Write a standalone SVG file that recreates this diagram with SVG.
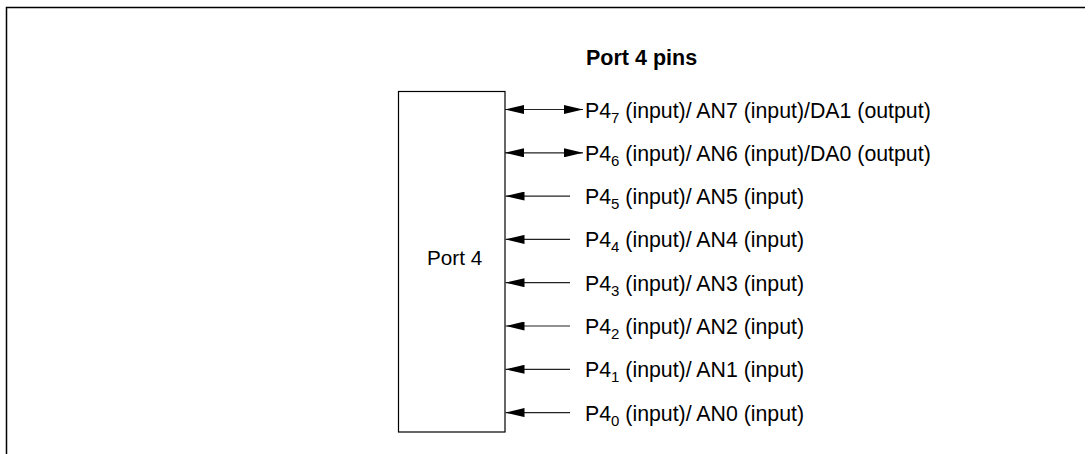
<svg xmlns="http://www.w3.org/2000/svg" width="1090" height="454" viewBox="0 0 1090 454">
<defs>
<marker id="ah" viewBox="0 0 19 9" refX="19" refY="4.5" markerWidth="19" markerHeight="9" markerUnits="userSpaceOnUse" orient="auto-start-reverse">
<path d="M0,0 L19,4.5 L0,9 Z" fill="#000"/>
</marker>
</defs>
<style>
text{font-family:"Liberation Sans",Arial,sans-serif;font-size:21.3px;fill:#000}
.title{font-weight:bold;font-size:21.5px}
.box{font-size:20.7px}
.sub{font-size:15px}
.conn line{stroke:#222;stroke-width:1.2}
.dbl{marker-start:url(#ah);marker-end:url(#ah)}
.sgl{marker-end:url(#ah)}
</style>
<rect width="1090" height="454" fill="#fff"/>
<path d="M6.5,454 V7.5 H1085" fill="none" stroke="#000" stroke-width="1.5"/>
<text class="title" x="586" y="65">Port 4 pins</text>
<g id="port4">
<rect x="398.5" y="91.5" width="106.5" height="340.5" fill="#fff" stroke="#000" stroke-width="1.2"/>
<text class="box" x="427" y="265">Port 4</text>
</g>
<g class="conn" id="connectors">
<line class="dbl" x1="505" y1="109.5" x2="583" y2="109.5"/>
<line class="dbl" x1="505" y1="152.8" x2="583" y2="152.8"/>
<line class="sgl" x1="570" y1="196.1" x2="505.5" y2="196.1"/>
<line class="sgl" x1="570" y1="239.4" x2="505.5" y2="239.4"/>
<line class="sgl" x1="570" y1="282.7" x2="505.5" y2="282.7"/>
<line class="sgl" x1="570" y1="326" x2="505.5" y2="326"/>
<line class="sgl" x1="570" y1="369.3" x2="505.5" y2="369.3"/>
<line class="sgl" x1="570" y1="412.6" x2="505.5" y2="412.6"/>
</g>
<g id="pin7"><text x="585" y="117.5">P4<tspan class="sub" dy="5">7</tspan><tspan dy="-5"> (input)/ AN7 (input)/DA1 (output)</tspan></text></g>
<g id="pin6"><text x="585" y="160.8">P4<tspan class="sub" dy="5">6</tspan><tspan dy="-5"> (input)/ AN6 (input)/DA0 (output)</tspan></text></g>
<g id="pin5"><text x="585" y="204.1">P4<tspan class="sub" dy="5">5</tspan><tspan dy="-5"> (input)/ AN5 (input)</tspan></text></g>
<g id="pin4"><text x="585" y="247.4">P4<tspan class="sub" dy="5">4</tspan><tspan dy="-5"> (input)/ AN4 (input)</tspan></text></g>
<g id="pin3"><text x="585" y="290.7">P4<tspan class="sub" dy="5">3</tspan><tspan dy="-5"> (input)/ AN3 (input)</tspan></text></g>
<g id="pin2"><text x="585" y="334">P4<tspan class="sub" dy="5">2</tspan><tspan dy="-5"> (input)/ AN2 (input)</tspan></text></g>
<g id="pin1"><text x="585" y="377.3">P4<tspan class="sub" dy="5">1</tspan><tspan dy="-5"> (input)/ AN1 (input)</tspan></text></g>
<g id="pin0"><text x="585" y="420.6">P4<tspan class="sub" dy="5">0</tspan><tspan dy="-5"> (input)/ AN0 (input)</tspan></text></g>
</svg>
